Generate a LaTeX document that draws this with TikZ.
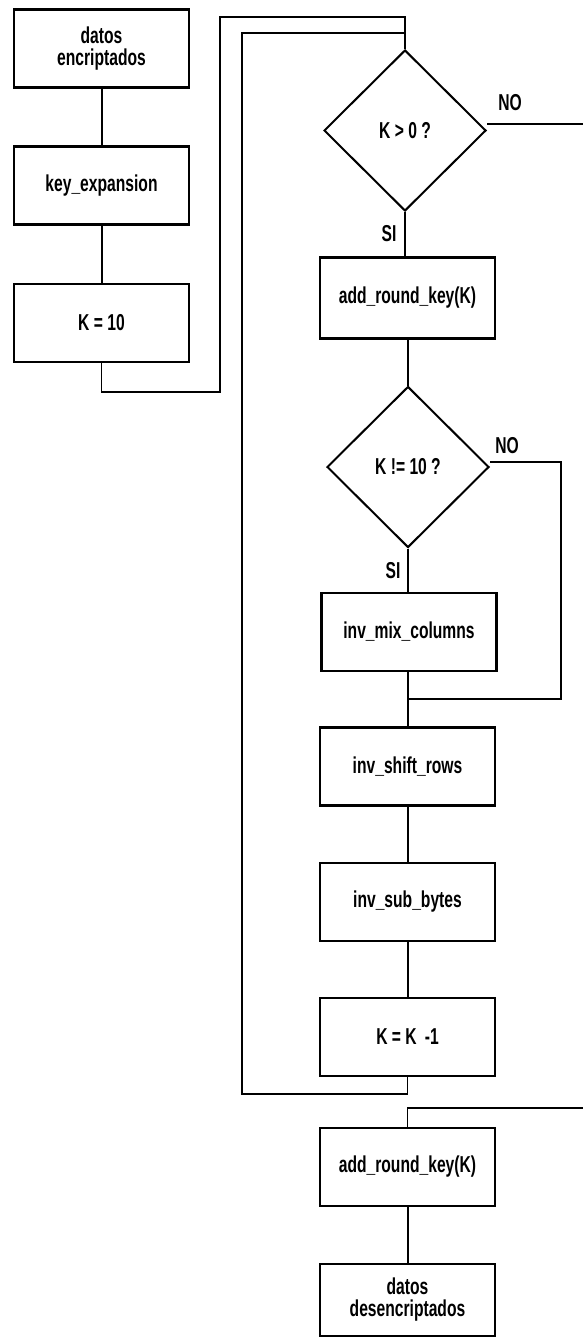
\documentclass[tikz,border=0pt]{standalone}
\usepackage{fontspec}
\setmainfont{Liberation Sans}[FakeStretch=0.68]
\usetikzlibrary{shapes.geometric}
\begin{document}
\begin{tikzpicture}[x=1pt,y=-1pt,
  txt/.style={font=\fontsize{23}{22}\selectfont\bfseries},
  box/.style={txt, draw, line width=2.6pt, minimum width=175pt, minimum height=78pt, inner sep=0pt, align=center},
  dec/.style={txt, draw, diamond, line width=2pt, minimum width=162pt, minimum height=161pt, inner sep=0pt},
  conn/.style={line width=2pt},
  loopline/.style={line width=1.6pt},
  lbl/.style={txt, inner sep=0pt}]
\useasboundingbox (0,0) rectangle (583,1338);
\fill[white] (0,0) rectangle (583,1338);
% left column
\node[box] (b1) at (101.5,48.5) {datos\\encriptados};
\node[box] (b2) at (101.5,185.5) {key\_expansion};
\node[box] (b3) at (101.5,323) {K = 10};
% right column
\node[dec] (d1) at (405,130.5) {K > 0 ?};
\node[box, minimum height=81pt] (a1) at (407.5,298) {add\_round\_key(K)};
\node[dec] (d2) at (408,467) {K != 10 ?};
\node[box] (mix) at (409,632) {inv\_mix\_columns};
\node[box] (shift) at (407.5,766.5) {inv\_shift\_rows};
\node[box] (sub) at (407.5,902) {inv\_sub\_bytes};
\node[box] (k1) at (407.5,1037) {K = K \,-1};
\node[box] (a2) at (407.5,1167) {add\_round\_key(K)};
\node[box, minimum height=72pt] (out) at (407.5,1300) {datos\\desencriptados};
% labels
\node[lbl] (no1) at (510,103) {NO};
\node[lbl] (si1) at (389,234) {SI};
\node[lbl] (no2) at (507,446) {NO};
\node[lbl] (si2) at (393,571) {SI};
% coordinates
\coordinate (p1) at (101.5,392);
\coordinate (p2) at (220,392);
\coordinate (p3) at (220,17);
\coordinate (p4) at (405,17);
\coordinate (q1) at (407.5,1094);
\coordinate (q2) at (242,1094);
\coordinate (q3) at (242,33);
\coordinate (q4) at (405,33);
\coordinate (e1) at (583,124);
\coordinate (e2) at (583,1108);
\coordinate (m1) at (561,462);
\coordinate (m2) at (561,699);
\coordinate (m3) at (408,699);
% connectors
\draw[conn] (b1) -- (b2);
\draw[conn] (b2) -- (b3);
\draw[loopline] (b3.south) -- (p1) -- (p2) -- (p3) -- (p4) -- (d1.north);
\draw[loopline] (k1.south) -- (q1) -- (q2) -- (q3) -- (q4);
\draw[conn] (d1.south) -- (d1.south |- a1.north);
\draw[conn] (d1.east |- e1) -- (e1);
\draw[conn] (a1.south -| d2.north) -- (d2.north);
\draw[conn] (d2.south) -- (d2.south |- mix.north);
\draw[loopline] (d2.east |- m1) -- (m1) -- (m2) -- (m3);
\draw[conn] (mix.south -| m3) -- (m3 |- shift.north);
\draw[conn] (shift) -- (sub);
\draw[conn] (sub) -- (k1);
\draw[loopline] (e2) -- (e2 -| a2.north) -- (a2.north);
\draw[conn] (a2) -- (out);
\end{tikzpicture}
\end{document}
